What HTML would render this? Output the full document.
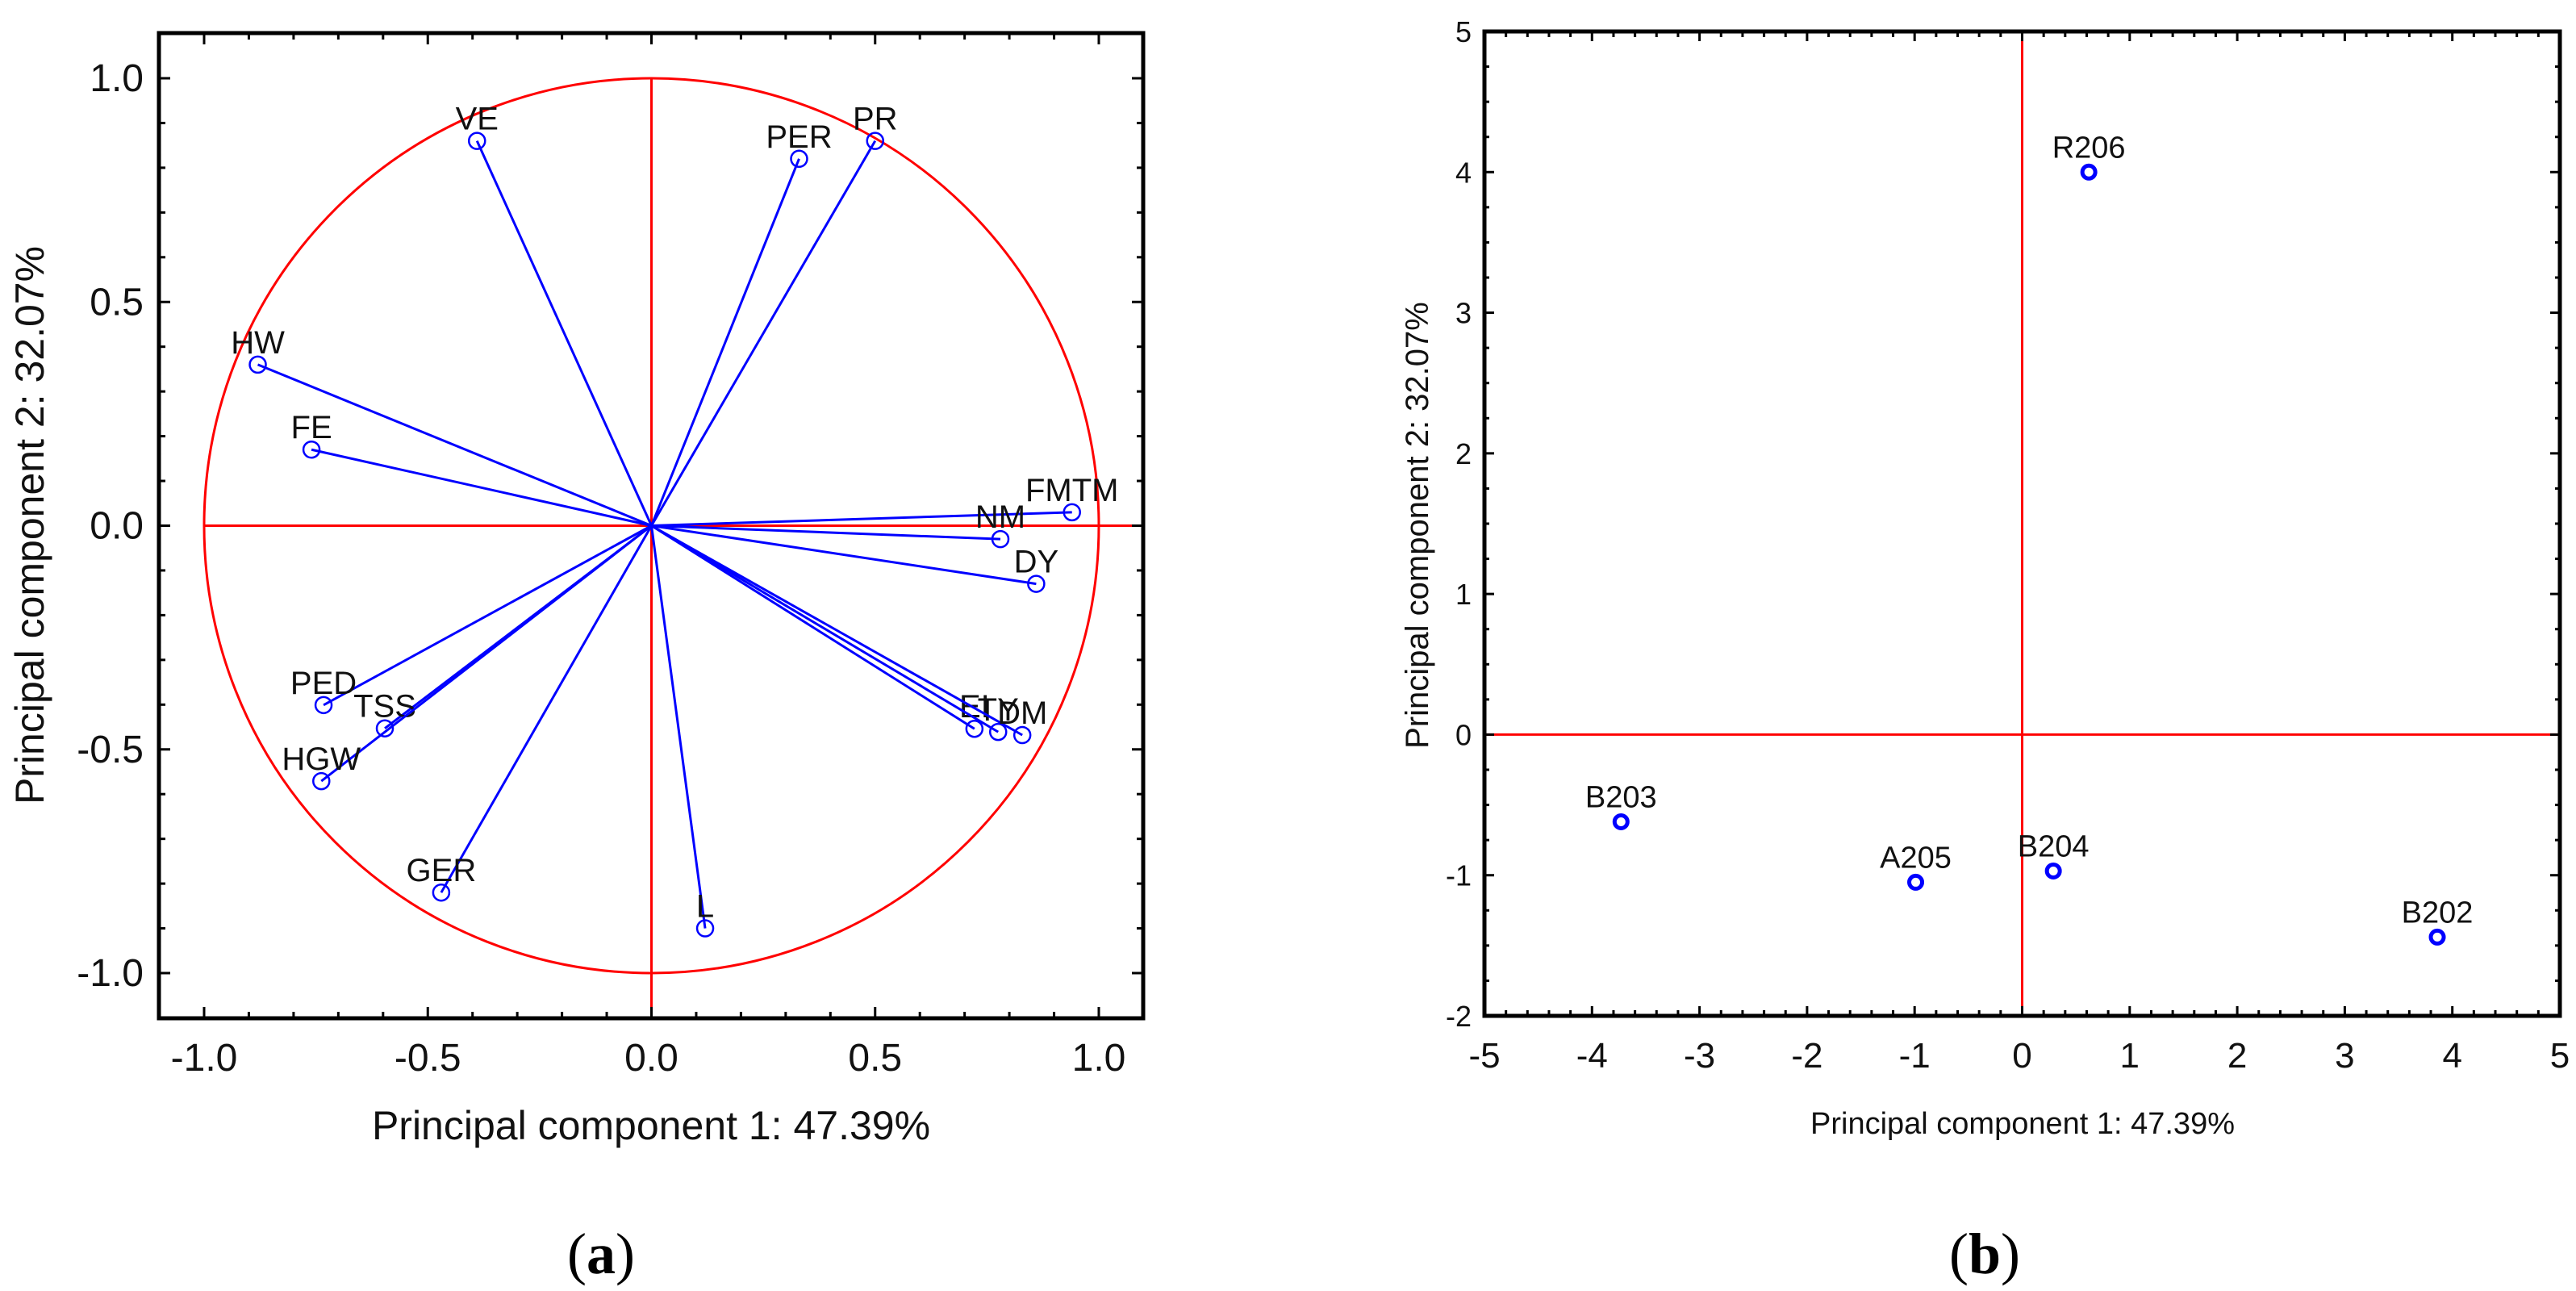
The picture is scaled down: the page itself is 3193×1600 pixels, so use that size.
<!DOCTYPE html>
<html><head><meta charset="utf-8"><style>
html,body{margin:0;padding:0;background:#fff;}
svg{display:block;font-family:"Liberation Sans",sans-serif;}
</style></head><body>
<svg id="chart" width="3193" height="1600" viewBox="0 0 3193 1600" xmlns="http://www.w3.org/2000/svg">
<g id="pa"></g>
<g id="pb"></g>
<text x="745" y="1578" font-family="Liberation Serif,serif" font-size="72" text-anchor="middle">(<tspan font-weight="bold">a</tspan>)</text>
<text x="2460" y="1578" font-family="Liberation Serif,serif" font-size="72" text-anchor="middle">(<tspan font-weight="bold">b</tspan>)</text>
</svg>
<script>
// Panel A data
const varNames = ["VE","PER","PR","HW","FE","FMTM","NM","DY","EI","TY","DM","PED","TSS","HGW","GER","L"];
const varPC1 = [-0.39,0.33,0.50,-0.88,-0.76,0.94,0.78,0.86,0.722,0.775,0.829,-0.733,-0.596,-0.738,-0.47,0.12];
const varPC2 = [0.86,0.82,0.86,0.36,0.17,0.03,-0.03,-0.13,-0.454,-0.461,-0.468,-0.401,-0.453,-0.571,-0.82,-0.90];
const aTicks = [-1.0,-0.5,0.0,0.5,1.0];
const aTickLabels = ["-1.0","-0.5","0.0","0.5","1.0"];
// Panel B data
const obsNames = ["R206","B203","A205","B204","B202"];
const obsPC1 = [0.62,-3.73,-0.99,0.29,3.86];
const obsPC2 = [4.0,-0.62,-1.05,-0.97,-1.44];
const bXTicks = [-5,-4,-3,-2,-1,0,1,2,3,4,5];
const bYTicks = [-2,-1,0,1,2,3,4,5];

const NS="http://www.w3.org/2000/svg";
function mk(parent,tag,attrs,name,text){
  const e=document.createElementNS(NS,tag);
  for(const k in attrs) e.setAttribute(k,attrs[k]);
  
  
  if(text!==undefined) e.textContent=text;
  parent.appendChild(e); return e;
}

// ---- Panel A ----
(function(){
  const g=document.getElementById('pa');
  const L=197,R=1417,T=41,B=1262;
  const ax=v=>807.5+v*554.5, ay=v=>651.5-v*554.5;
  mk(g,'line',{x1:ax(0),y1:ay(1),x2:ax(0),y2:B,stroke:'#f00','stroke-width':3},'vertical-zero-line');
  mk(g,'line',{x1:ax(-1),y1:ay(0),x2:R,y2:ay(0),stroke:'#f00','stroke-width':3},'horizontal-zero-line');
  mk(g,'ellipse',{cx:ax(0),cy:ay(0),rx:ax(1)-ax(0),ry:ay(0)-ay(1),fill:'none',stroke:'#f00','stroke-width':3},'unit-circle');
  for(let i=0;i<varNames.length;i++){
    const x=ax(varPC1[i]),y=ay(varPC2[i]);
    mk(g,'line',{x1:ax(0),y1:ay(0),x2:x,y2:y,stroke:'#00f','stroke-width':3},'vector-'+varNames[i].toLowerCase());
    mk(g,'circle',{cx:x,cy:y,r:10,fill:'none',stroke:'#00f','stroke-width':2.5},'point-'+varNames[i].toLowerCase());
    mk(g,'text',{x:x,y:y-14,'font-size':40,'text-anchor':'middle',fill:'#111'},'label-'+varNames[i].toLowerCase(),varNames[i]);
  }
  mk(g,'rect',{x:L,y:T,width:R-L,height:B-T,fill:'none',stroke:'#000','stroke-width':5},'plot-frame-a');
  for(let k=-11;k<=11;k++){
    const v=k/10, len=(k%5===0)?14:8;
    const x=ax(v);
    if(x>L+2&&x<R-2){
      mk(g,'line',{x1:x,y1:B,x2:x,y2:B-len,stroke:'#000','stroke-width':3},'x-tick-a');
      mk(g,'line',{x1:x,y1:T,x2:x,y2:T+len,stroke:'#000','stroke-width':3},'x-tick-top-a');
    }
    const y=ay(v);
    if(y>T+2&&y<B-2){
      mk(g,'line',{x1:L,y1:y,x2:L+len,y2:y,stroke:'#000','stroke-width':3},'y-tick-a');
      mk(g,'line',{x1:R,y1:y,x2:R-len,y2:y,stroke:'#000','stroke-width':3},'y-tick-right-a');
    }
  }
  for(let i=0;i<aTicks.length;i++){
    mk(g,'text',{x:ax(aTicks[i]),y:1327,'font-size':48,'text-anchor':'middle',fill:'#111'},'x-tick-label-a',aTickLabels[i]);
    mk(g,'text',{x:178,y:ay(aTicks[i])+16,'font-size':48,'text-anchor':'end',fill:'#111'},'y-tick-label-a',aTickLabels[i]);
  }
  mk(g,'text',{x:807,y:1412,'font-size':50,'text-anchor':'middle',fill:'#111'},'x-axis-title-a','Principal component 1: 47.39%');
  mk(g,'text',{x:54,y:651,'font-size':50,'text-anchor':'middle',fill:'#111',transform:'rotate(-90 54 651)'},'y-axis-title-a','Principal component 2: 32.07%');
})();

// ---- Panel B ----
(function(){
  const g=document.getElementById('pb');
  const L=1840,R=3173,T=39,B=1259;
  const bx=v=>L+(v+5)*(R-L)/10, by=v=>T+(5-v)*(B-T)/7;
  mk(g,'line',{x1:bx(0),y1:T,x2:bx(0),y2:B,stroke:'#f00','stroke-width':3},'vertical-zero-line-b');
  mk(g,'line',{x1:L,y1:by(0),x2:R,y2:by(0),stroke:'#f00','stroke-width':3},'horizontal-zero-line-b');
  mk(g,'rect',{x:L,y:T,width:R-L,height:B-T,fill:'none',stroke:'#000','stroke-width':5},'plot-frame-b');
  for(let k=-25;k<=25;k++){
    const x=bx(k/5), len=(k%5===0)?12:7;
    if(x>L+2&&x<R-2){
      mk(g,'line',{x1:x,y1:B,x2:x,y2:B-len,stroke:'#000','stroke-width':3},'x-tick-b');
      mk(g,'line',{x1:x,y1:T,x2:x,y2:T+len,stroke:'#000','stroke-width':3},'x-tick-top-b');
    }
  }
  for(let k=-8;k<=20;k++){
    const y=by(k/4), len=(k%4===0)?12:6;
    if(y>T+2&&y<B-2){
      mk(g,'line',{x1:L,y1:y,x2:L+len,y2:y,stroke:'#000','stroke-width':3},'y-tick-b');
      mk(g,'line',{x1:R,y1:y,x2:R-len,y2:y,stroke:'#000','stroke-width':3},'y-tick-right-b');
    }
  }
  for(let i=0;i<bXTicks.length;i++)
    mk(g,'text',{x:bx(bXTicks[i]),y:1323,'font-size':44,'text-anchor':'middle',fill:'#111'},'x-tick-label-b',String(bXTicks[i]));
  for(let i=0;i<bYTicks.length;i++)
    mk(g,'text',{x:1824,y:by(bYTicks[i])+13,'font-size':36,'text-anchor':'end',fill:'#111'},'y-tick-label-b',String(bYTicks[i]));
  for(let i=0;i<obsNames.length;i++){
    const x=bx(obsPC1[i]),y=by(obsPC2[i]);
    mk(g,'circle',{cx:x,cy:y,r:8,fill:'none',stroke:'#00f','stroke-width':5},'point-'+obsNames[i].toLowerCase());
    mk(g,'text',{x:x,y:y-18,'font-size':38,'text-anchor':'middle',fill:'#111'},'label-'+obsNames[i].toLowerCase(),obsNames[i]);
  }
  mk(g,'text',{x:2507,y:1405,'font-size':38,'text-anchor':'middle',fill:'#111'},'x-axis-title-b','Principal component 1: 47.39%');
  mk(g,'text',{x:1770,y:651,'font-size':40,'text-anchor':'middle',fill:'#111',transform:'rotate(-90 1770 651)'},'y-axis-title-b','Principal component 2: 32.07%');
})();
</script>
</body></html>
